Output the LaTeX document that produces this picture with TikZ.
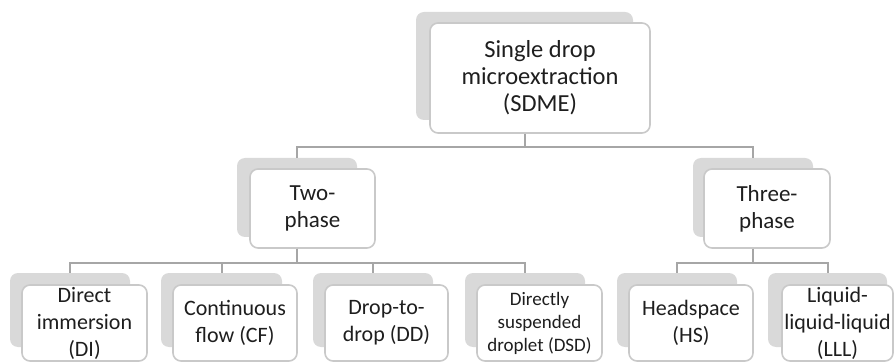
\documentclass[tikz,border=0pt]{standalone}
\usepackage{fontspec}
\setmainfont{Carlito}
\definecolor{shadowgray}{HTML}{D9D9D9}
\definecolor{bordergray}{HTML}{C9C9C9}
\definecolor{linegray}{HTML}{A6A6A6}
\definecolor{textcol}{HTML}{1E1E1E}
\tikzset{
  shad/.style={fill=shadowgray, rounded corners=8pt, inner sep=0pt},
  front/.style={fill=white, draw=bordergray, line width=1.6pt, rounded corners=8pt,
    align=center, inner sep=0pt, text=textcol},
  topfont/.style={font=\fontsize{24.5}{27}\selectfont},
  midfont/.style={font=\fontsize{23}{27}\selectfont},
  botfont/.style={font=\fontsize{22}{27}\selectfont},
  smallfont/.style={font=\fontsize{19}{23}\selectfont},
  conn/.style={draw=linegray, line width=2pt},
}
\begin{document}
\begin{tikzpicture}[x=1pt,y=1pt]
\useasboundingbox (0,0) rectangle (896,-363);
% shadows
\node[shad, minimum width=217, minimum height=108] (sdmes) at (524.5,-66) {};
\node[shad, minimum width=120, minimum height=79] (twos) at (297,-197.5) {};
\node[shad, minimum width=120, minimum height=79] (threes) at (753,-197.5) {};
\node[shad, minimum width=120, minimum height=74] (dis) at (70,-310) {};
\node[shad, minimum width=121, minimum height=74] (cfs) at (221.5,-310) {};
\node[shad, minimum width=120, minimum height=74] (dds) at (373,-310) {};
\node[shad, minimum width=120, minimum height=74] (dsds) at (525,-310) {};
\node[shad, minimum width=120, minimum height=74] (hss) at (677,-310) {};
\node[shad, minimum width=119, minimum height=74] (llls) at (827.5,-310) {};
% front boxes
\node[front, topfont, minimum width=220, minimum height=110] (sdme) at (540,-78)
  {Single drop\\microextraction\\(SDME)};
\node[front, midfont, minimum width=125, minimum height=79] (two) at (312.5,-208.5)
  {Two-\\phase};
\node[front, midfont, minimum width=126, minimum height=79] (three) at (767,-208.5)
  {Three-\\phase};
\node[front, botfont, minimum width=125, minimum height=76] (di) at (84.5,-323)
  {Direct\\immersion\\(DI)};
\node[front, botfont, minimum width=124, minimum height=76] (cf) at (235,-323)
  {Continuous\\flow (CF)};
\node[front, botfont, minimum width=123, minimum height=76] (dd) at (386.5,-323)
  {Drop-to-\\drop (DD)};
\node[front, smallfont, minimum width=125, minimum height=76] (dsd) at (539.5,-323)
  {Directly\\suspended\\droplet (DSD)};
\node[front, botfont, minimum width=124, minimum height=76] (hs) at (691,-323)
  {Headspace\\(HS)};
\node[front, botfont, minimum width=111, minimum height=76] (lll) at (837.5,-323)
  {Liquid-\\liquid-liquid\\(LLL)};
% connectors
\draw[conn] (sdmes |- sdme.south) -- ++(0,-13) -| (twos.north);
\draw[conn] (sdmes |- sdme.south) -- ++(0,-13) -| (threes.north);
\foreach \c in {dis,cfs,dds,dsds}
  \draw[conn] (twos |- two.south) -- ++(0,-14) -| (\c.north);
\foreach \c in {hss,llls}
  \draw[conn] (threes |- three.south) -- ++(0,-14) -| (\c.north);
\end{tikzpicture}
\end{document}
